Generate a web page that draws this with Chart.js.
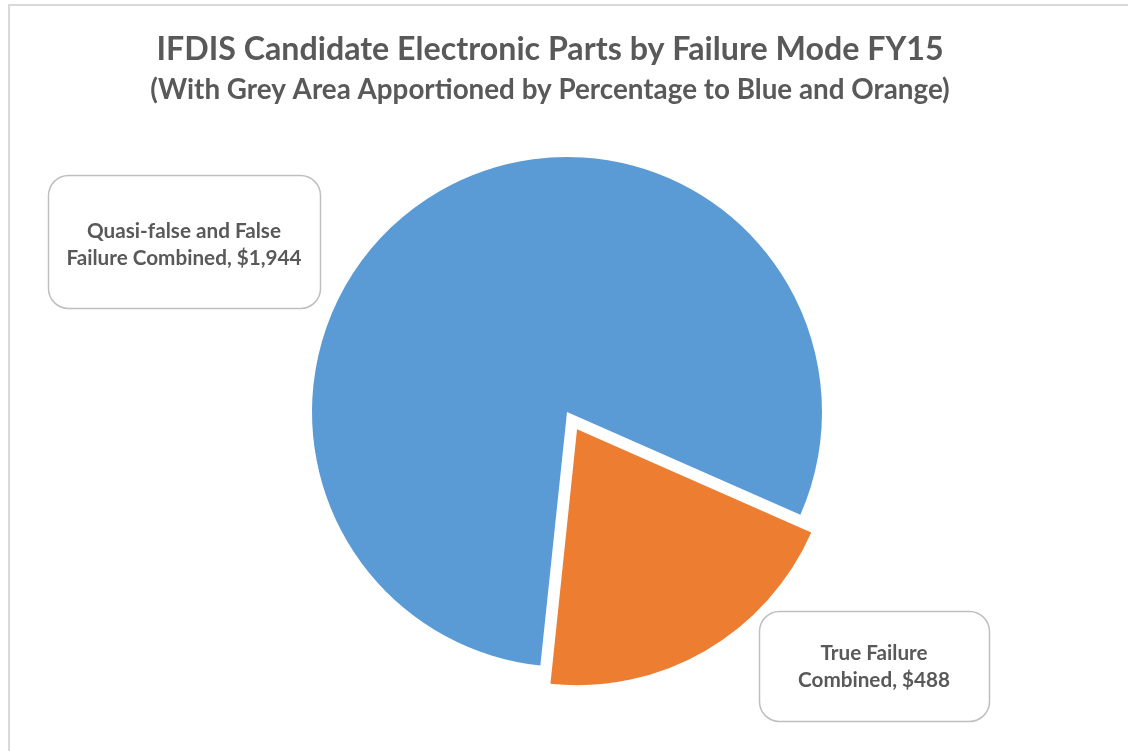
<!DOCTYPE html>
<html>
<head>
<meta charset="utf-8">
<script src="https://cdn.jsdelivr.net/npm/chart.js@4.4.1/dist/chart.umd.min.js"></script>
<style>
  html, body { margin: 0; padding: 0; background: #ffffff; overflow: hidden; }
  #frame { position: absolute; left: 8px; top: 4px; width: 1200px; height: 800px; border: 2px solid #d9d9d9; box-sizing: border-box; }
  #wrap { position: absolute; left: 0; top: 0; width: 1128px; height: 751px; }
</style>
</head>
<body>
<div id="frame"></div>
<div id="wrap"><canvas id="c" width="1128" height="751"></canvas></div>
<script>
const categories = ["Quasi-false and False Failure Combined", "True Failure Combined"];
const values = [1944, 488];
const labelLines = [["Quasi-false and False", "Failure Combined, $1,944"], ["True Failure", "Combined, $488"]];
const colors = ["#5B9BD5", "#ED7D31"];
const titleText = "IFDIS Candidate Electronic Parts by Failure Mode FY15";
const subtitleText = "(With Grey Area Apportioned by Percentage to Blue and Orange)";

const FONT = "Lato, 'Open Sans', sans-serif";
const TEXT = "#595959";

// label box placement relative to pie centre, in units of radius
const boxPlace = [
  { cx: -1.502, cy: -0.667, w: 272, h: 133, ty: 3 },
  { cx: 1.204, cy: 0.996, w: 230, h: 110, ty: 1 }
];

function roundRect(ctx, x, y, w, h, r) {
  ctx.beginPath();
  ctx.moveTo(x + r, y);
  ctx.lineTo(x + w - r, y);
  ctx.arcTo(x + w, y, x + w, y + r, r);
  ctx.lineTo(x + w, y + h - r);
  ctx.arcTo(x + w, y + h, x + w - r, y + h, r);
  ctx.lineTo(x + r, y + h);
  ctx.arcTo(x, y + h, x, y + h - r, r);
  ctx.lineTo(x, y + r);
  ctx.arcTo(x, y, x + r, y, r);
  ctx.closePath();
}

const calloutPlugin = {
  id: 'callouts',
  afterLayout(chart) {
    chart.boxes.forEach(b => {
      if (b.position === 'top' && b.options && b.options.text !== undefined) {
        b.left -= 17; b.right -= 17;
      }
    });
  },
  afterDatasetsDraw(chart) {
    const ctx = chart.ctx;
    const meta = chart.getDatasetMeta(0);
    const center = meta.data[0].getProps(['x', 'y', 'outerRadius'], true);
    meta.data.forEach((arc, i) => {
      const R = center.outerRadius;
      const pl = boxPlace[i];
      const cx = center.x + pl.cx * R;
      const cy = center.y + pl.cy * R;
      const x = Math.round(cx - pl.w / 2) + 0.5;
      const y = Math.round(cy - pl.h / 2) + 0.5;
      ctx.save();
      roundRect(ctx, x, y, pl.w, pl.h, 20);
      ctx.fillStyle = "#ffffff";
      ctx.fill();
      ctx.lineWidth = 1.5;
      ctx.strokeStyle = "#bfbfbf";
      ctx.stroke();
      ctx.fillStyle = TEXT;
      ctx.font = "bold 20.7px " + FONT;
      ctx.textAlign = "center";
      ctx.textBaseline = "middle";
      const lines = labelLines[i];
      const lh = 26.5;
      lines.forEach((t, k) => {
        ctx.fillText(t, cx, cy + pl.ty + (k - (lines.length - 1) / 2) * lh);
      });
      ctx.restore();
    });
  }
};

new Chart(document.getElementById('c'), {
  type: 'pie',
  data: {
    labels: categories,
    datasets: [{
      data: values,
      backgroundColor: colors,
      borderWidth: 0,
      offset: [0, 80],
      hoverOffset: 0
    }]
  },
  options: {
    responsive: false,
    animation: false,
    events: [],
    rotation: 186,
    radius: 255,
    layout: { padding: { left: 6, right: 0, top: 0, bottom: 34 } },
    plugins: {
      legend: { display: false },
      tooltip: { enabled: false },
      title: {
        display: true,
        text: titleText,
        color: TEXT,
        font: { family: FONT, size: 32.2, weight: 'bold' },
        padding: { top: 30, bottom: 0 }
      },
      subtitle: {
        display: true,
        text: subtitleText,
        color: TEXT,
        font: { family: FONT, size: 27.8, weight: 'bold' },
        padding: { top: 5, bottom: 0 }
      }
    }
  },
  plugins: [calloutPlugin]
});
</script>
</body>
</html>
